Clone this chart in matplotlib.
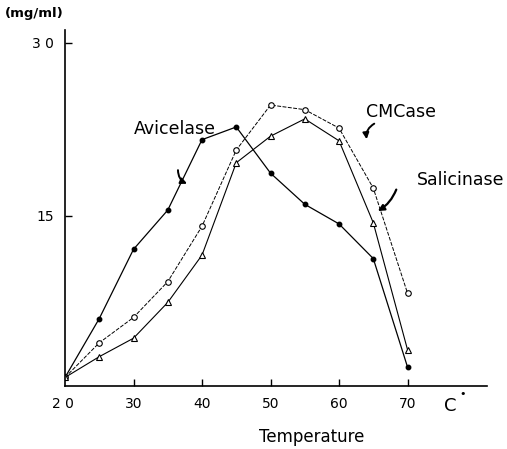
import matplotlib
matplotlib.use("Agg")
import matplotlib.pyplot as plt

temperature = [20, 25, 30, 35, 40, 45, 50, 55, 60, 65, 70]
avicelase = [1.0, 6.1, 12.1, 15.5, 21.6, 22.7, 18.7, 16.0, 14.3, 11.3, 1.9]
cmcase = [1.0, 4.0, 6.2, 9.3, 14.1, 20.7, 24.6, 24.2, 22.6, 17.4, 8.3]
salicinase = [1.0, 2.8, 4.4, 7.5, 11.6, 19.6, 21.9, 23.4, 21.5, 14.4, 3.4]

x_ticks = [30, 40, 50, 60, 70]
y_ticks = [15, 30]

W, H = 507, 449
fig = plt.figure(figsize=(W / 100, H / 100), dpi=100)
ax = fig.add_axes([65 / W, 1 - 386 / H, (487 - 65) / W, (386 - 30) / H])

ax.plot(temperature, avicelase, color="black", lw=0.9, marker="o", ms=3.2,
        mfc="black", mec="black")
ax.plot(temperature, cmcase, color="black", lw=0.7, ls=(0, (4, 1.5)), marker="o",
        ms=4, mfc="white", mec="black", mew=0.8)
ax.plot(temperature, salicinase, color="black", lw=0.8, marker="^", ms=5,
        mfc="white", mec="black", mew=0.8)

ax.set_xlim(20, 81.6)
ax.set_ylim(0.26, 31.1)
for s in ["top", "right"]:
    ax.spines[s].set_visible(False)
ax.spines["left"].set_linewidth(1.2)
ax.spines["bottom"].set_linewidth(1.2)

ax.set_xticks(x_ticks)
ax.set_xticklabels([str(t) for t in x_ticks], fontsize=10)
ax.set_yticks(y_ticks)
ax.set_yticklabels(["15", "3 0"], fontsize=10)
ax.tick_params(axis="both", direction="in", length=5, width=1, pad=8)

fig.text(63 / W, 1 - 404 / H, "2 0", ha="center", va="center", fontsize=10)

ax.text(36.1, 22.5, "Avicelase", ha="center", va="center", fontsize=12.5)
ax.text(69.1, 24.0, "CMCase", ha="center", va="center", fontsize=12.5)
ax.text(77.7, 18.1, "Salicinase", ha="center", va="center", fontsize=12.5)

arrow = dict(arrowstyle="-|>", color="black", lw=1.4,
             connectionstyle="arc3,rad=0.4", mutation_scale=9)
ax.annotate("", xy=(38.2, 17.7), xytext=(36.5, 19.2), arrowprops=arrow)
ax.annotate("", xy=(64.1, 21.4), xytext=(65.5, 23.1), arrowprops=arrow)
ax.annotate("", xy=(65.3, 15.3), xytext=(68.5, 17.5),
            arrowprops=dict(arrowstyle="-|>", color="black", lw=1.6,
                            connectionstyle="arc3,rad=-0.2", mutation_scale=9))

fig.text(5 / W, 1 - 14 / H, "(mg/ml)", ha="left", va="center", fontsize=9.5,
         fontweight="bold")
fig.text(312 / W, 1 - 437 / H, "Temperature", ha="center", va="center", fontsize=12)
fig.text(450 / W, 1 - 406 / H, "C", ha="center", va="center", fontsize=13)
fig.text(463 / W, 1 - 394 / H, "•", ha="center", va="center", fontsize=8)

fig.savefig("out.png", dpi=100)
